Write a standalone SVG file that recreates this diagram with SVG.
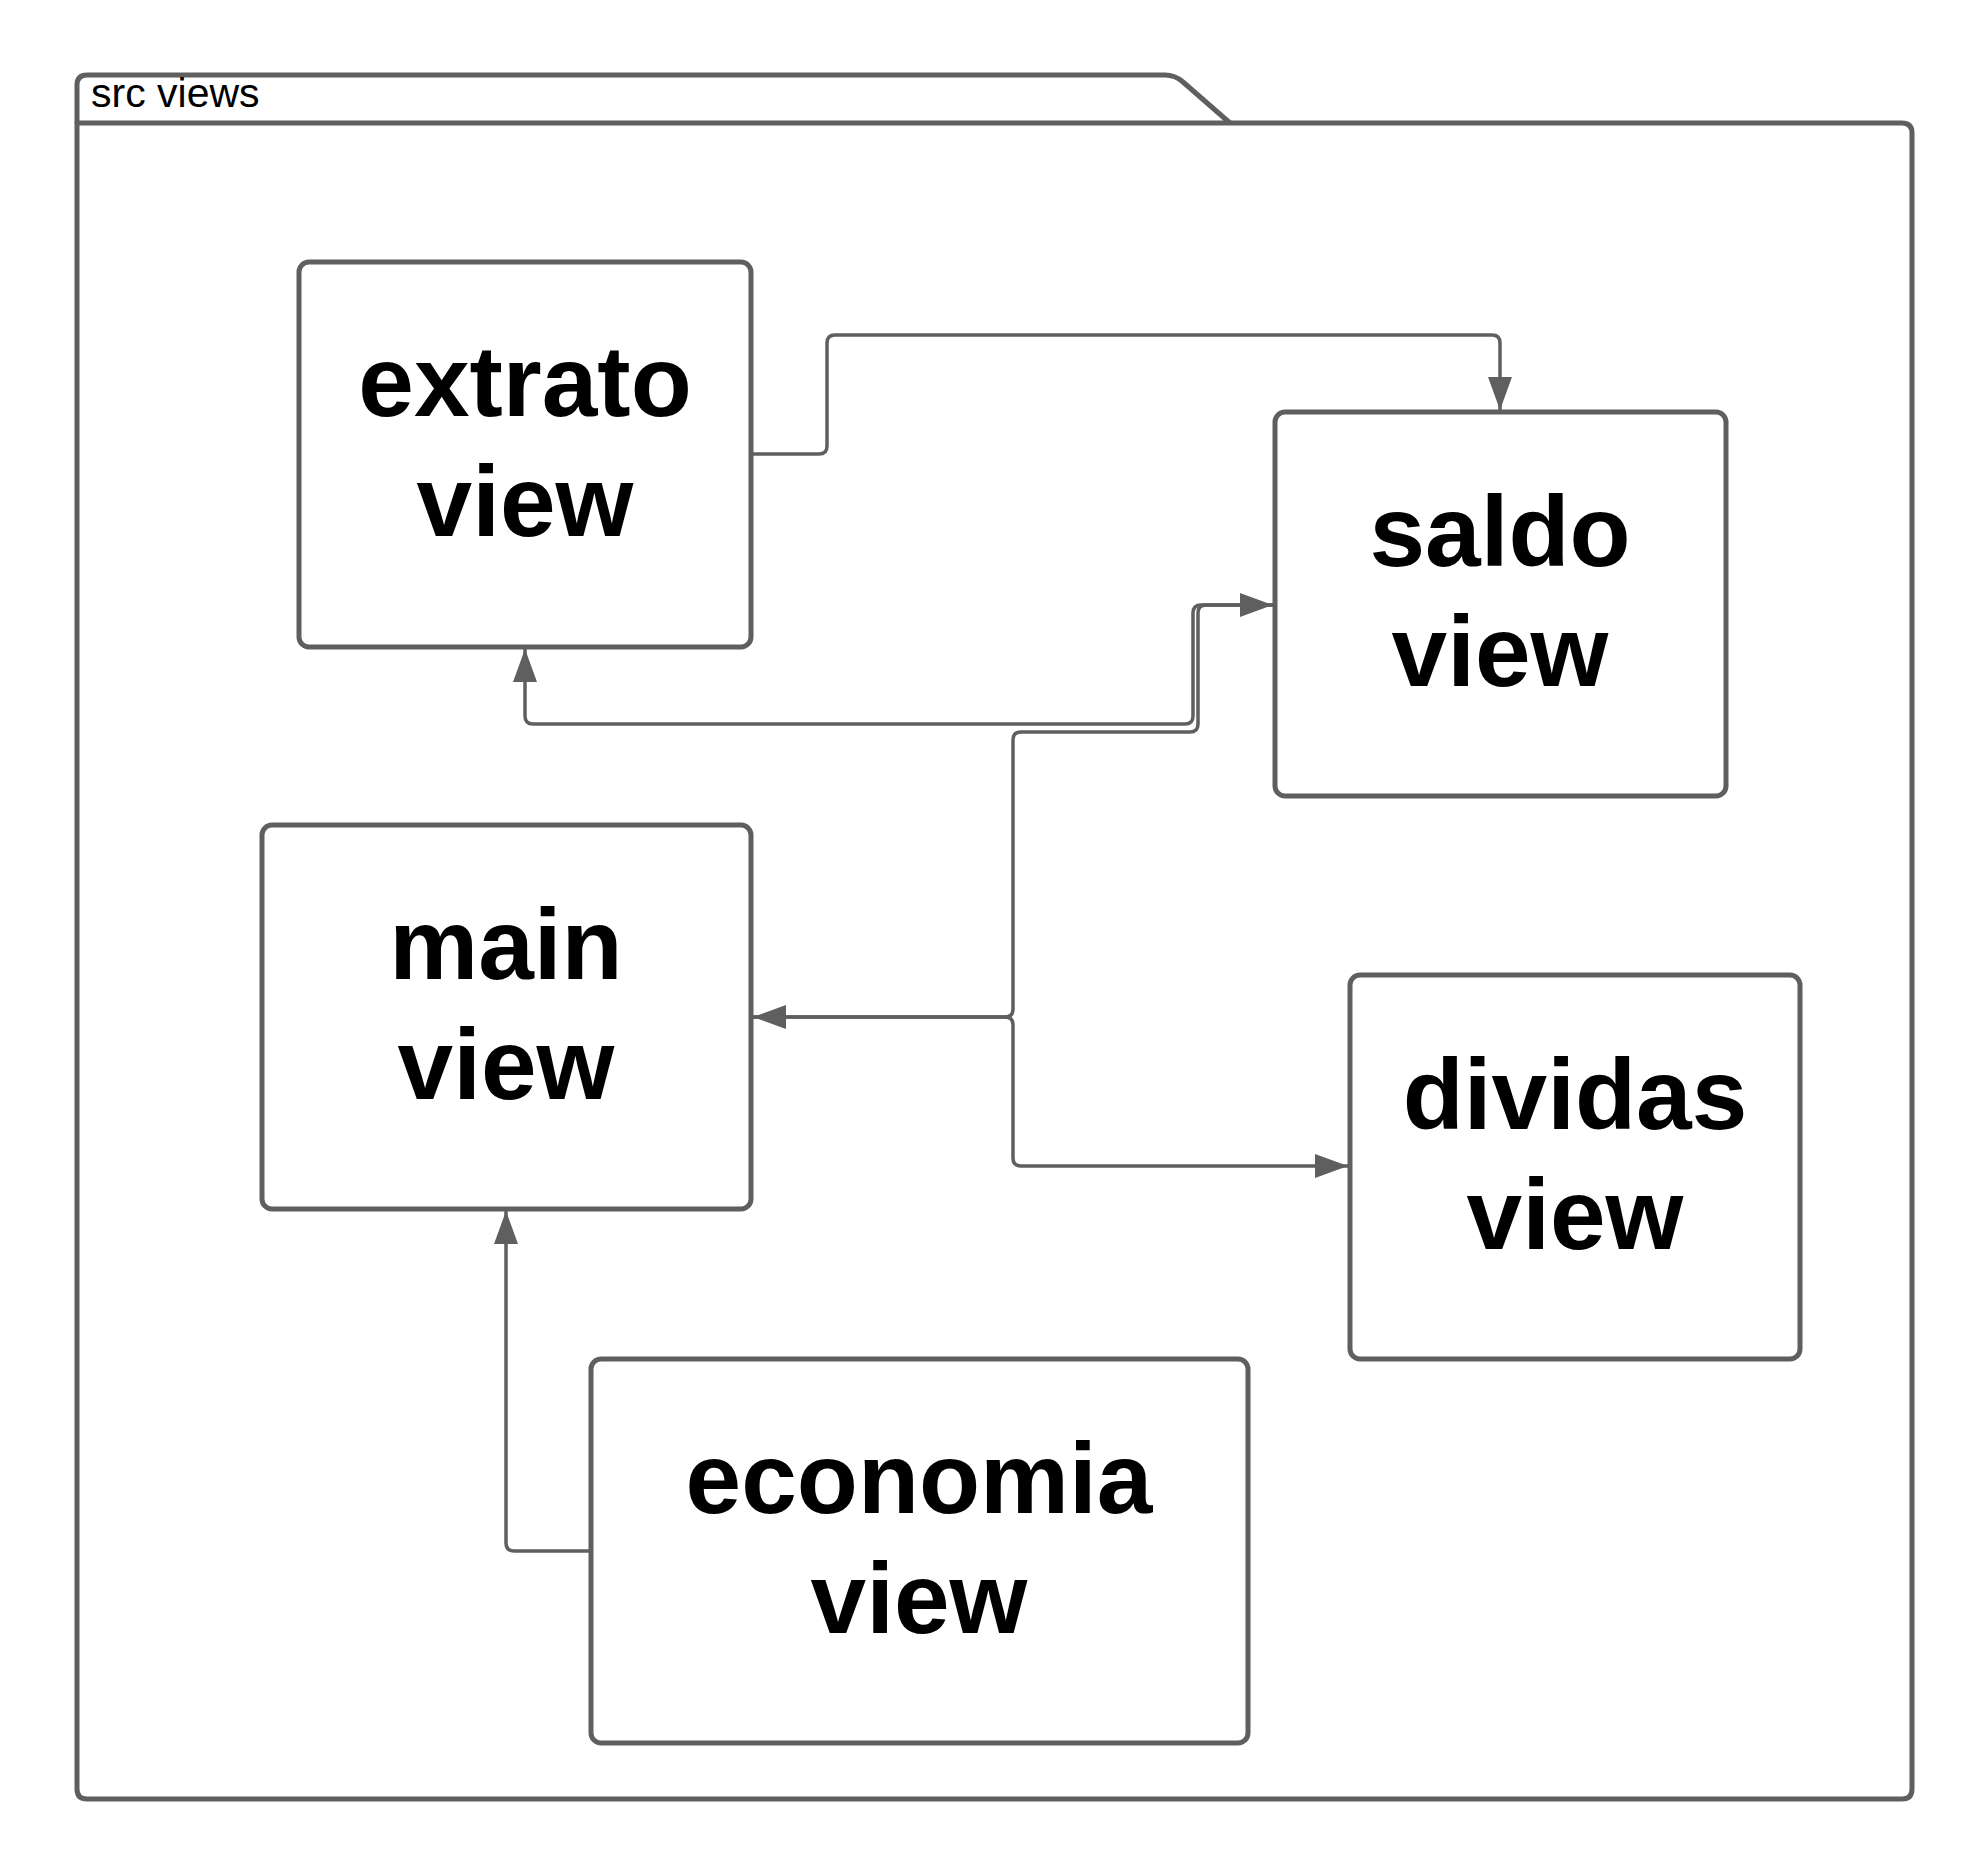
<svg xmlns="http://www.w3.org/2000/svg" width="1988" height="1875" viewBox="0 0 1988 1875">
<style>
.pkg{fill:#ffffff;stroke:#5f5f5f;stroke-width:5;stroke-linejoin:round}
.box{fill:#ffffff;stroke:#5f5f5f;stroke-width:5}
.lbl{font-family:"Liberation Sans",Arial,sans-serif;font-weight:bold;font-size:100px;fill:#000000;text-anchor:middle}
.ptitle{font-family:"Liberation Sans",Arial,sans-serif;font-size:41px;fill:#000000}
.conn{fill:none;stroke:#5f5f5f;stroke-width:3.5}
</style>
<defs>
<marker id="arr" markerUnits="userSpaceOnUse" markerWidth="36" markerHeight="26" refX="33" refY="12" orient="auto-start-reverse">
<path d="M0,0 L33,12 L0,24 Z" fill="#5f5f5f"/>
</marker>
</defs>
<rect width="1988" height="1875" fill="#ffffff"/>
<g id="package">
<path class="pkg" d="M77,123 V85 Q77,75 87,75 H1165 Q1175,75 1183,82 L1230,123"/>
<path class="pkg" d="M77,123 H1902 Q1912,123 1912,133 V1789 Q1912,1799 1902,1799 H87 Q77,1799 77,1789 Z"/>
<text class="ptitle" x="91" y="107">src views</text>
</g>
<g id="connectors">
<path class="conn" d="M753,454 H819 Q827,454 827,446 V343 Q827,335 835,335 H1492 Q1500,335 1500,343 V410" marker-end="url(#arr)"/>
<path class="conn" d="M1273,605 H1201 Q1193,605 1193,613 V716 Q1193,724 1185,724 H533 Q525,724 525,716 V649" marker-start="url(#arr)" marker-end="url(#arr)"/>
<path class="conn" d="M1275,605 H1206 Q1198,605 1198,613 V724 Q1198,732 1190,732 H1021 Q1013,732 1013,740 V1009 Q1013,1017 1005,1017 H753" marker-end="url(#arr)"/>
<path class="conn" d="M753,1017 H1005 Q1013,1017 1013,1025 V1158 Q1013,1166 1021,1166 H1348" marker-end="url(#arr)"/>
<path class="conn" d="M589,1551 H514 Q506,1551 506,1543 V1211" marker-end="url(#arr)"/>
</g>
<g id="extrato-view">
<rect class="box" x="299" y="262" width="452" height="385" rx="10"/>
<text class="lbl" x="525" y="416">extrato</text>
<text class="lbl" x="525" y="536">view</text>
</g>
<g id="saldo-view">
<rect class="box" x="1275" y="412" width="451" height="384" rx="10"/>
<text class="lbl" x="1500" y="566">saldo</text>
<text class="lbl" x="1500" y="686">view</text>
</g>
<g id="main-view">
<rect class="box" x="262" y="825" width="489" height="384" rx="10"/>
<text class="lbl" x="506" y="979">main</text>
<text class="lbl" x="506" y="1099">view</text>
</g>
<g id="dividas-view">
<rect class="box" x="1350" y="975" width="450" height="384" rx="10"/>
<text class="lbl" x="1575" y="1129">dividas</text>
<text class="lbl" x="1575" y="1249">view</text>
</g>
<g id="economia-view">
<rect class="box" x="591" y="1359" width="657" height="384" rx="10"/>
<text class="lbl" x="919" y="1513">economia</text>
<text class="lbl" x="919" y="1633">view</text>
</g>
</svg>
